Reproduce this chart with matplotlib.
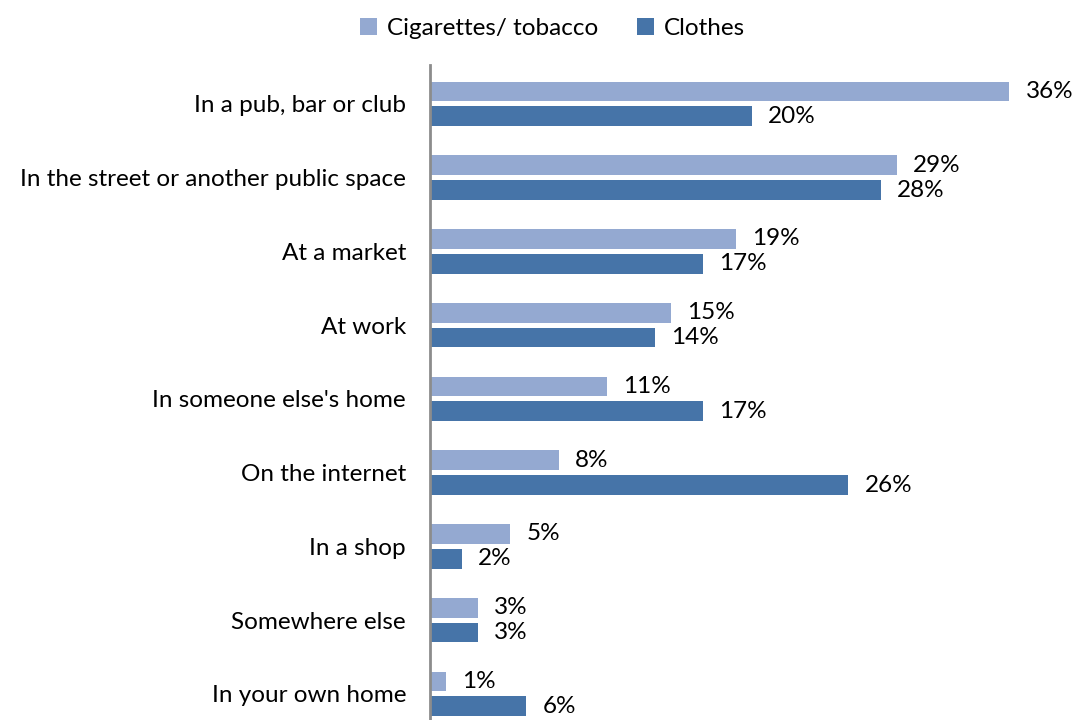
import matplotlib
matplotlib.use("Agg")
import matplotlib.pyplot as plt
import numpy as np

categories = [
    "In a pub, bar or club",
    "In the street or another public space",
    "At a market",
    "At work",
    "In someone else's home",
    "On the internet",
    "In a shop",
    "Somewhere else",
    "In your own home",
]
cigarettes = [36, 29, 19, 15, 11, 8, 5, 3, 1]
clothes = [20, 28, 17, 14, 17, 26, 2, 3, 6]
series_names = ["Cigarettes/ tobacco", "Clothes"]

light = "#94A9D1"
dark = "#4674A8"

plt.rcParams["font.family"] = ["Lato", "DejaVu Sans"]
fs = 17.5

fig = plt.figure(figsize=(10.77, 7.2), dpi=100)
ax = fig.add_axes([0.399, -0.017, 0.598, 0.927])

y = np.arange(len(categories))
h = 0.27
off = 0.168
b1 = ax.barh(y - off, cigarettes, height=h, color=light, label=series_names[0])
b2 = ax.barh(y + off, clothes, height=h, color=dark, label=series_names[1])

for bars, vals in ((b1, cigarettes), (b2, clothes)):
    for bar, v in zip(bars, vals):
        ax.text(v + 1.0, bar.get_y() + bar.get_height() / 2, f"{v}%",
                va="center", ha="left", fontsize=fs, color="black")

ax.set_ylim(len(categories) - 0.5 + 0.02, -0.53)
ax.set_xlim(0, 40)
ax.set_yticks(y)
ax.set_yticklabels(categories, fontsize=fs)
ax.tick_params(axis="y", length=0, pad=17)
ax.set_xticks([])
for s in ("top", "right", "bottom"):
    ax.spines[s].set_visible(False)
ax.spines["left"].set_color("#8C8C8C")
ax.spines["left"].set_linewidth(2)

fig.legend(handles=[b1, b2], loc="center", bbox_to_anchor=(0.513, 0.961),
           ncol=2, frameon=False, fontsize=fs, handlelength=0.7,
           handleheight=0.7, handletextpad=0.4, columnspacing=1.6)

fig.savefig("out.png", dpi=100)
